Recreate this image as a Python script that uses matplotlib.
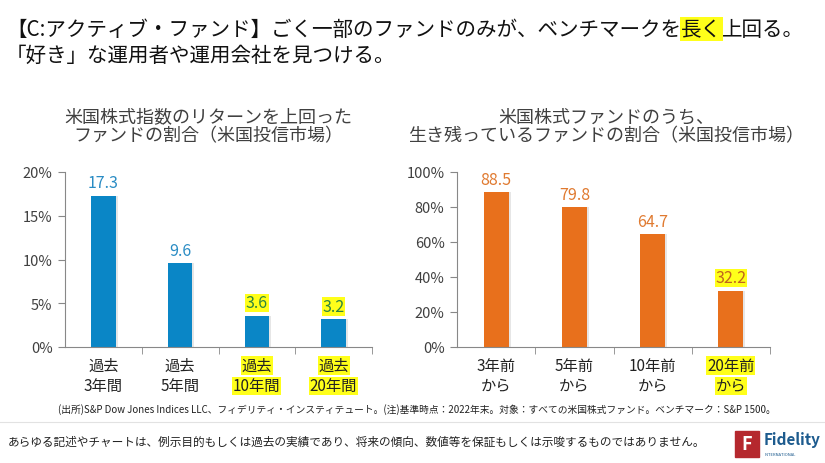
import matplotlib
import matplotlib.pyplot as plt
from matplotlib.patches import Rectangle

matplotlib.use('Agg')
plt.rcParams['font.family'] = ['Noto Sans CJK JP', 'DejaVu Sans']

# データ
periodos_esq = ['過去\n3年間', '過去\n5年間', '過去\n10年間', '過去\n20年間']
valores_esq = [17.3, 9.6, 3.6, 3.2]
destaque_esq = [False, False, True, True]
ticks_esq = [0, 5, 10, 15, 20]

periodos_dir = ['3年前\nから', '5年前\nから', '10年前\nから', '20年前\nから']
valores_dir = [88.5, 79.8, 64.7, 32.2]
destaque_dir = [False, False, False, True]
ticks_dir = [0, 20, 40, 60, 80, 100]

titulo_esq = '米国株式指数のリターンを上回った\nファンドの割合（米国投信市場）'
titulo_dir = '米国株式ファンドのうち、\n生き残っているファンドの割合（米国投信市場）'

AZUL = '#0a86c6'
LARANJA = '#e8701c'
AMARELO = '#ffff1a'
CINZA = '#404040'

fig = plt.figure(figsize=(8.25, 4.64), dpi=100)


def px(x, y):
    return x / 825, 1 - y / 464


def cria_grafico(rect, periodos, valores, destaque, ticks, cor, cor_txt, cor_dest):
    ax = fig.add_axes(rect)
    x = range(len(valores))
    # sombra leve
    ax.bar([i + 0.025 for i in x], valores, width=0.32, color='#e6e6e6', zorder=1)
    ax.bar(x, valores, width=0.32, color=cor, zorder=2)
    ax.set_xlim(-0.5, len(valores) - 0.5)
    ax.set_ylim(ticks[0], ticks[-1])
    ax.set_yticks(ticks)
    ax.set_yticklabels(['%d%%' % t for t in ticks], fontsize=10.5, color=CINZA)
    ax.set_xticks([])
    ax.set_xticks([i + 0.5 for i in x], minor=True)
    ax.tick_params(axis='x', which='minor', length=5, color='#888888')
    ax.tick_params(axis='y', length=5, color='#888888', pad=4)
    for s in ['top', 'right']:
        ax.spines[s].set_visible(False)
    for s in ['left', 'bottom']:
        ax.spines[s].set_color('#888888')
    for i, v in enumerate(valores):
        if destaque[i]:
            ax.annotate('%.1f' % v, (i, v), xytext=(0, 3), textcoords='offset points',
                        ha='center', va='bottom', fontsize=11.5, color=cor_dest,
                        bbox=dict(boxstyle='square,pad=0.05', fc=AMARELO, ec='none'))
        else:
            ax.annotate('%.1f' % v, (i, v), xytext=(0, 3), textcoords='offset points',
                        ha='center', va='bottom', fontsize=11.5, color=cor_txt)
        linhas = periodos[i].split('\n')
        for k, linha in enumerate(linhas):
            kw = {}
            if destaque[i]:
                kw['bbox'] = dict(boxstyle='square,pad=0.05', fc=AMARELO, ec='none')
            ax.annotate(linha, (i, 0), xytext=(0, -13.5 - 14.5 * k), textcoords='offset points',
                        ha='center', va='center', fontsize=11, color='#222222',
                        annotation_clip=False, **kw)
    return ax


ax1 = cria_grafico([65 / 825, 116 / 464, 307 / 825, 175 / 464], periodos_esq, valores_esq,
                   destaque_esq, ticks_esq, AZUL, '#2a8cc4', '#2e8540')
ax2 = cria_grafico([457 / 825, 116 / 464, 313 / 825, 175 / 464], periodos_dir, valores_dir,
                   destaque_dir, ticks_dir, LARANJA, '#e07a30', '#c0651e')

fig.text(*px(208, 127), titulo_esq, ha='center', va='center', fontsize=13, color=CINZA,
         linespacing=1.1)
fig.text(*px(606, 127), titulo_dir, ha='center', va='center', fontsize=13, color=CINZA,
         linespacing=1.1)

# cabecalho com destaque
renderer = fig.canvas.get_renderer()
t1 = fig.text(*px(6, 30), '【C:アクティブ・ファンド】ごく一部のファンドのみが、ベンチマークを',
              ha='left', va='center', fontsize=14.8, color='#111111')
bb = t1.get_window_extent(renderer)
t2 = fig.text(bb.x1 / 825, 1 - 30 / 464, '長く', ha='left', va='center', fontsize=14.8,
              color='#111111', bbox=dict(boxstyle='square,pad=0.05', fc=AMARELO, ec='none'))
bb2 = t2.get_window_extent(renderer)
fig.text(bb2.x1 / 825, 1 - 30 / 464, '上回る。', ha='left', va='center', fontsize=14.8,
         color='#111111')
fig.text(*px(6, 56), '「好き」な運用者や運用会社を見つける。', ha='left', va='center',
         fontsize=14.8, color='#111111')

# rodape
fig.text(*px(58, 410), '(出所)S&P Dow Jones Indices LLC、フィデリティ・インスティテュート。(注)基準時点：2022年末。'
         '対象：すべての米国株式ファンド。ベンチマーク：S&P 1500。',
         ha='left', va='center', fontsize=7.0, color='#222222')
fig.add_artist(plt.Line2D([0, 1], [1 - 423 / 464] * 2, color='#e2e2e2', lw=0.8))
fig.text(*px(8, 442), 'あらゆる記述やチャートは、例示目的もしくは過去の実績であり、将来の傾向、数値等を保証もしくは示唆するものではありません。',
         ha='left', va='center', fontsize=8.4, color='#222222')

# logo
fig.add_artist(Rectangle(px(735, 458), 24 / 825, 26 / 464, color='#b5282e'))
fig.text(*px(747, 445), 'F', ha='center', va='center', fontsize=13, color='white',
         fontweight='bold')
fig.text(*px(764, 440), 'Fidelity', ha='left', va='center', fontsize=11, color='#1d5b8e',
         fontweight='bold')
fig.text(*px(765, 455), 'INTERNATIONAL', ha='left', va='center', fontsize=3, color='#1d5b8e')

fig.savefig('out.png', dpi=100)
